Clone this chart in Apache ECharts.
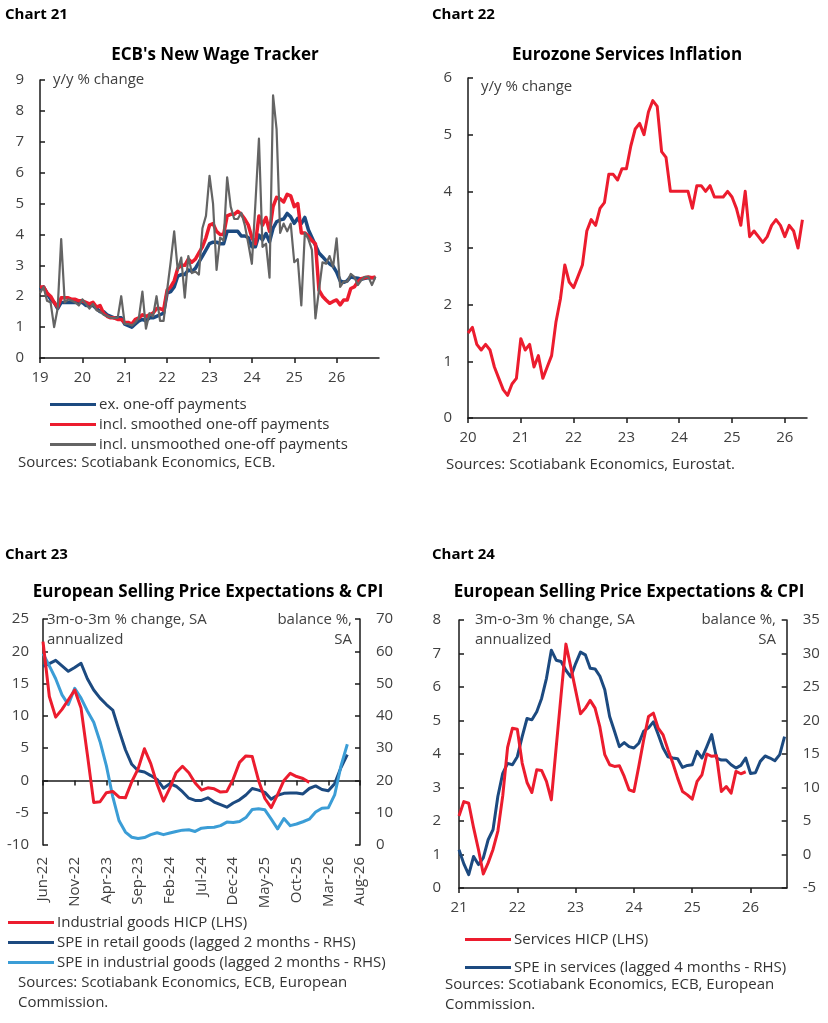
<!DOCTYPE html>
<html>
<head>
<meta charset="utf-8">
<script src="https://cdn.jsdelivr.net/npm/echarts@6.0.0/dist/echarts.min.js"></script>
<style>
html,body{margin:0;padding:0;background:#ffffff;}
#chart{width:828px;height:1023px;}
</style>
</head>
<body>
<div id="chart"></div>
<script>
// ---------- Chart 21: ECB wage tracker, monthly from Jan 2019 ----------
const wageStartYear = 2019;
const wageExOneOff = [
  2.2, 2.3, 2.1, 1.9, 1.8, 1.6, 1.8, 1.8, 1.8, 1.8, 1.8, 1.8,
  1.8, 1.7, 1.7, 1.7, 1.6, 1.5, 1.5, 1.4, 1.35, 1.3, 1.3, 1.3,
  1.1, 1.05, 1.0, 1.1, 1.2, 1.25, 1.2, 1.3, 1.3, 1.35, 1.4, 1.45,
  2.1, 2.15, 2.3, 2.65, 2.7, 2.7, 2.85, 2.8, 2.9, 3.1, 3.3, 3.5,
  3.7, 3.75, 3.75, 3.7, 3.7, 4.1, 4.1, 4.1, 4.1, 3.95, 3.95, 3.9,
  3.6, 3.6, 3.98, 3.82, 4.03, 3.76, 4.2, 4.41, 4.47, 4.5, 4.68, 4.57,
  4.36, 4.52, 4.35, 4.55, 4.15, 3.9, 3.65, 3.4, 3.28, 3.15, 3.05, 2.97,
  2.78, 2.5, 2.45, 2.5, 2.63, 2.6, 2.58, 2.55, 2.58, 2.6, 2.6, 2.6
];
const wageSmoothed = [
  2.3, 2.3, 2.1, 2.0, 1.8, 1.65, 1.95, 1.95, 1.95, 1.9, 1.9, 1.85,
  1.85, 1.8, 1.75, 1.8, 1.65, 1.7, 1.45, 1.35, 1.3, 1.3, 1.25, 1.25,
  1.15, 1.15, 1.1, 1.25, 1.3, 1.4, 1.35, 1.4, 1.45, 1.6, 1.6, 1.55,
  2.2, 2.3, 2.5, 2.9, 3.0, 3.0, 3.2, 3.1, 3.2, 3.4, 3.6, 3.9,
  4.3, 4.35, 4.1, 4.0, 4.0, 4.6, 4.65, 4.65, 4.75, 4.65, 4.5, 4.3,
  3.9, 3.7, 4.6, 4.3, 4.55, 4.1, 4.9, 5.2, 5.15, 5.05, 5.3, 5.25,
  4.9, 5.0, 4.05, 4.05, 3.95, 3.8, 3.7, 2.2, 2.0, 1.88, 1.77, 1.83,
  1.88, 1.72, 1.88, 1.88, 2.25, 2.3, 2.47, 2.57, 2.6, 2.62, 2.6, 2.62
];
const wageUnsmoothed = [
  2.1, 2.3, 1.85, 1.8, 1.0, 1.6, 3.85, 1.8, 1.9, 1.85, 1.8, 1.7,
  1.9, 1.75, 1.6, 1.75, 1.55, 1.5, 1.4, 1.35, 1.3, 1.3, 1.3, 2.0,
  1.1, 1.1, 1.05, 1.15, 1.3, 2.15, 0.95, 1.45, 1.35, 2.0, 1.2, 1.2,
  2.2, 3.1, 4.1, 2.85, 3.25, 1.95, 3.3, 2.75, 2.8, 2.7, 4.2, 4.6,
  5.9, 5.0, 2.85, 3.9, 3.8, 5.85, 4.9, 4.5, 4.5, 4.7, 4.3, 3.7,
  3.05, 5.0, 7.1, 3.6, 3.7, 2.6, 8.5, 7.4, 4.05, 4.35, 4.1, 4.35,
  3.1, 3.2, 1.7, 4.05, 3.85, 3.5, 1.28, 2.2, 3.1, 3.05, 3.3, 2.95,
  3.87, 2.3, 2.47, 2.47, 2.72, 2.63, 2.36, 2.52, 2.63, 2.63, 2.36, 2.63
];

// ---------- Chart 22: Eurozone services inflation, monthly from Jan 2020 ----------
const servicesStartYear = 2020;
const servicesInflation = [
  1.5, 1.6, 1.3, 1.2, 1.3, 1.2, 0.9, 0.7, 0.5, 0.4, 0.6, 0.7,
  1.4, 1.2, 1.3, 0.9, 1.1, 0.7, 0.9, 1.1, 1.7, 2.1, 2.7, 2.4,
  2.3, 2.5, 2.7, 3.3, 3.5, 3.4, 3.7, 3.8, 4.3, 4.3, 4.2, 4.4,
  4.4, 4.8, 5.1, 5.2, 5.0, 5.4, 5.6, 5.5, 4.7, 4.6, 4.0, 4.0,
  4.0, 4.0, 4.0, 3.7, 4.1, 4.1, 4.0, 4.1, 3.9, 3.9, 3.9, 4.0,
  3.9, 3.7, 3.4, 4.0, 3.2, 3.3, 3.2, 3.1, 3.2, 3.4, 3.5, 3.4,
  3.2, 3.4, 3.3, 3.0, 3.5
];

// ---------- Chart 23: selling price expectations (goods), monthly categories ----------
const months23 = [
  'Jun-22','Jul-22','Aug-22','Sep-22','Oct-22','Nov-22','Dec-22',
  'Jan-23','Feb-23','Mar-23','Apr-23','May-23','Jun-23','Jul-23','Aug-23','Sep-23','Oct-23','Nov-23','Dec-23',
  'Jan-24','Feb-24','Mar-24','Apr-24','May-24','Jun-24','Jul-24','Aug-24','Sep-24','Oct-24','Nov-24','Dec-24',
  'Jan-25','Feb-25','Mar-25','Apr-25','May-25','Jun-25','Jul-25','Aug-25','Sep-25','Oct-25','Nov-25','Dec-25',
  'Jan-26','Feb-26','Mar-26','Apr-26','May-26','Jun-26','Jul-26','Aug-26'
];
const industrialGoodsHICP = [
  21.5, 13.0, 9.8, 11.0, 12.5, 14.0, 11.2, 4.0, -3.4, -3.3,
  -1.9, -1.7, -2.6, -2.7, -0.2, 1.8, 4.9, 2.6, -0.6, -3.2,
  -1.2, 1.2, 2.2, 1.2, -0.4, -1.5, -1.15, -1.3, -1.8, -1.7,
  0.2, 2.8, 3.8, 3.7, 0.0, -2.8, -4.2, -2.2, 0.0, 1.1,
  0.6, 0.3, -0.3
];
const speRetailGoods = [
  55.3, 56.2, 57.2, 55.5, 53.8, 55.0, 56.3, 51.5, 48.0, 45.5,
  43.5, 41.8, 35.5, 29.5, 25.0, 23.0, 22.6, 21.5, 20.3, 17.6,
  19.0, 18.2, 16.5, 14.5, 13.8, 13.8, 14.6, 13.3, 12.5, 11.7,
  13.0, 14.0, 15.5, 17.5, 17.0, 16.3, 14.2, 15.4, 16.0, 16.1,
  16.1, 15.8, 17.5, 18.3, 17.2, 16.8, 19.0, 24.0, 28.0
];
const speIndustrialGoods = [
  59.3, 55.5, 51.5, 46.5, 43.5, 48.5, 45.5, 41.5, 38.0, 32.0,
  24.5, 15.0, 7.5, 4.0, 2.4, 2.0, 2.3, 3.2, 3.8, 3.2,
  3.7, 4.2, 4.6, 4.7, 4.2, 5.2, 5.4, 5.5, 6.0, 7.1,
  7.0, 7.3, 8.5, 11.0, 11.2, 10.9, 8.0, 5.0, 8.2, 6.0,
  6.5, 7.2, 8.0, 10.2, 11.4, 11.5, 15.5, 24.5, 31.2
];

// ---------- Chart 24: selling price expectations (services), monthly from Jan 2021 ----------
const services24StartYear = 2021;
const servicesHICP = [
  2.15, 2.58, 2.53, 1.8, 1.15, 0.42, 0.75, 1.15, 1.7, 2.75,
  4.2, 4.77, 4.74, 3.73, 3.15, 2.85, 3.53, 3.51, 3.18, 2.63,
  4.2, 5.75, 7.28, 6.6, 5.9, 5.2, 5.37, 5.6, 5.37, 4.8,
  3.98, 3.68, 3.63, 3.65, 3.33, 2.93, 2.88, 3.63, 4.42, 5.12,
  5.22, 4.77, 4.57, 4.13, 3.73, 3.28, 2.88, 2.78, 2.65, 3.18,
  3.38, 4.0, 3.93, 3.95, 2.88, 3.03, 2.83, 3.48, 3.41, 3.47
];
const speServices = [
  0.7, -1.4, -3.0, -0.3, -1.5, -0.5, 2.2, 3.7, 8.7, 12.1,
  13.6, 13.4, 14.6, 17.6, 20.3, 20.1, 21.3, 23.3, 26.3, 30.5,
  29.0, 28.8, 27.5, 26.5, 28.5, 30.2, 29.8, 27.8, 27.7, 26.6,
  24.6, 20.6, 18.4, 16.1, 16.7, 16.1, 15.9, 16.6, 18.4, 18.9,
  19.8, 17.9, 15.9, 14.6, 14.4, 14.3, 13.0, 13.3, 13.4, 15.4,
  14.4, 16.1, 17.9, 14.4, 14.1, 14.1, 13.4, 12.9, 13.3, 14.4,
  12.1, 12.2, 13.9, 14.7, 14.4, 14.0, 14.9, 17.6
];

// ---------- helpers ----------
function monthly(startYear, arr) {
  return arr.map(function (v, i) { return [startYear + i / 12, v]; });
}
const FONT = '"Open Sans", "Noto Sans", sans-serif';
const RED = '#EC1C2E', NAVY = '#1C4A80', GREY = '#646464', SKY = '#3B9DD6';
const AXIS_COLOR = '#1a1a1a', LABEL_COLOR = '#404040';

function yearLabel(v) {
  return Math.abs(v - Math.round(v)) < 1e-6 ? String(Math.round(v)).slice(2) : '';
}
function valueX(grid, min, max) {
  return {
    type: 'value', gridIndex: grid, min: min, max: max, interval: 1,
    splitLine: { show: false },
    axisLine: { onZero: false, lineStyle: { color: AXIS_COLOR, width: 1.5 } },
    axisTick: { inside: false, length: 5, lineStyle: { color: AXIS_COLOR, width: 1.5 } },
    axisLabel: { formatter: yearLabel, color: LABEL_COLOR, fontSize: 15, fontFamily: FONT, margin: 12, showMaxLabel: false }
  };
}
function valueY(grid, min, max, interval, pos, margin) {
  return {
    type: 'value', gridIndex: grid, min: min, max: max, interval: interval, position: pos,
    splitLine: { show: false },
    axisLine: { show: true, onZero: false, lineStyle: { color: AXIS_COLOR, width: 1.5 } },
    axisTick: { show: true, inside: true, length: 5, lineStyle: { color: AXIS_COLOR, width: 1.5 } },
    axisLabel: { color: LABEL_COLOR, fontSize: 15, fontFamily: FONT, margin: margin }
  };
}
function line(name, xi, yi, data, color, width, z) {
  return {
    name: name, type: 'line', xAxisIndex: xi, yAxisIndex: yi, data: data,
    symbol: 'none', showSymbol: false, animation: false, z: z || 2,
    lineStyle: { color: color, width: width, join: 'round' },
    itemStyle: { color: color }
  };
}
function txt(text, x, y, font, align, fill) {
  return {
    type: 'text', x: x, y: y, silent: true,
    style: {
      text: text, font: font, fill: fill || '#333333',
      textAlign: align || 'left', textVerticalAlign: 'middle', verticalAlign: 'middle'
    }
  };
}
function legend(names, left, top, gap) {
  return {
    data: names, orient: 'vertical', left: left, top: top, itemGap: gap, padding: 0,
    icon: 'rect', itemWidth: 46, itemHeight: 3, selectedMode: false,
    textStyle: { color: '#333333', fontSize: 15, fontFamily: FONT, lineHeight: 15, padding: [0, 0, 0, -2] }
  };
}

const N21 = ['ex. one-off payments', 'incl. smoothed one-off payments', 'incl. unsmoothed one-off payments'];
const N22 = ['Eurozone services HICP'];
const N23 = ['Industrial goods HICP (LHS)', 'SPE in retail goods (lagged 2 months - RHS)', 'SPE in industrial goods (lagged 2 months - RHS)'];
const N24 = ['Services HICP (LHS)', 'SPE in services (lagged 4 months - RHS)'];

const bold15 = 'bold 15px ' + FONT;
const bold17 = 'bold 17px ' + FONT;
const reg15 = '15px ' + FONT;

const option = {
  animation: false,
  backgroundColor: '#ffffff',
  grid: [
    { left: 40, top: 80, width: 339, height: 278 },
    { left: 468, top: 78, width: 339, height: 340 },
    { left: 43, top: 619, width: 317, height: 226 },
    { left: 459, top: 620, width: 327.7, height: 268 }
  ],
  xAxis: [
    valueX(0, 2019, 2027),
    valueX(1, 2020, 2026.42),
    {
      type: 'category', gridIndex: 2, data: months23, boundaryGap: false,
      axisLine: { onZero: true, onZeroAxisIndex: 2, lineStyle: { color: AXIS_COLOR, width: 1.5 } },
      axisTick: { interval: 4, inside: false, length: 5, lineStyle: { color: AXIS_COLOR, width: 1.5 } },
      axisLabel: { show: false }, splitLine: { show: false }
    },
    {
      type: 'category', gridIndex: 2, data: months23, boundaryGap: false, position: 'bottom',
      axisLine: { show: false, onZero: false }, axisTick: { show: false },
      axisLabel: { interval: 4, rotate: 90, color: LABEL_COLOR, fontSize: 15, fontFamily: FONT, margin: 12 },
      splitLine: { show: false }
    },
    valueX(3, 2021, 2026.62)
  ],
  yAxis: [
    valueY(0, 0, 9, 1, 'left', 16),
    valueY(1, 0, 6, 1, 'left', 16),
    valueY(2, -10, 25, 5, 'left', 14),
    valueY(2, 0, 70, 10, 'right', 16),
    valueY(3, 0, 8, 1, 'left', 18),
    valueY(3, -5, 35, 5, 'right', 16)
  ],
  legend: [
    legend(N21, 50, 397, 5),
    legend(N23, 8, 915, 5),
    legend(N24, 465, 932, 13)
  ],
  series: [
    line(N21[0], 0, 0, monthly(wageStartYear, wageExOneOff), NAVY, 3.5, 2),
    line(N21[1], 0, 0, monthly(wageStartYear, wageSmoothed), RED, 3.5, 3),
    line(N21[2], 0, 0, monthly(wageStartYear, wageUnsmoothed), GREY, 2.2, 4),
    line(N22[0], 1, 1, monthly(servicesStartYear, servicesInflation), RED, 3, 2),
    line(N23[1], 2, 3, speRetailGoods, NAVY, 3, 2),
    line(N23[2], 2, 3, speIndustrialGoods, SKY, 3, 3),
    line(N23[0], 2, 2, industrialGoodsHICP, RED, 3, 4),
    line(N24[1], 4, 5, monthly(services24StartYear, speServices), NAVY, 3, 2),
    line(N24[0], 4, 4, monthly(services24StartYear, servicesHICP), RED, 3, 3)
  ],
  graphic: { elements: [
    txt('Chart 21', 5, 15, bold15, 'left', '#000'),
    txt('Chart 22', 432, 15, bold15, 'left', '#000'),
    txt('Chart 23', 5, 555, bold15, 'left', '#000'),
    txt('Chart 24', 432, 555, bold15, 'left', '#000'),
    txt("ECB's New Wage Tracker", 215, 55, bold17, 'center', '#000'),
    txt('Eurozone Services Inflation', 627, 55, bold17, 'center', '#000'),
    txt('European Selling Price Expectations & CPI', 208, 592, bold17, 'center', '#000'),
    txt('European Selling Price Expectations & CPI', 629, 592, bold17, 'center', '#000'),
    txt('y/y % change', 53, 80, reg15, 'left', '#404040'),
    txt('y/y % change', 481, 87, reg15, 'left', '#404040'),
    txt('3m-o-3m % change, SA', 47, 620, reg15, 'left', '#404040'),
    txt('annualized', 47, 640, reg15, 'left', '#404040'),
    txt('balance %,', 352, 620, reg15, 'right', '#404040'),
    txt('SA', 352, 640, reg15, 'right', '#404040'),
    txt('3m-o-3m % change, SA', 475, 620, reg15, 'left', '#404040'),
    txt('annualized', 475, 640, reg15, 'left', '#404040'),
    txt('balance %,', 776, 620, reg15, 'right', '#404040'),
    txt('SA', 776, 640, reg15, 'right', '#404040'),
    txt('Sources: Scotiabank Economics, ECB.', 18, 463, reg15),
    txt('Sources: Scotiabank Economics, Eurostat.', 446, 465, reg15),
    txt('Sources: Scotiabank Economics, ECB, European', 18, 983, reg15),
    txt('Commission.', 18, 1003, reg15),
    txt('Sources: Scotiabank Economics, ECB, European', 445, 985, reg15),
    txt('Commission.', 445, 1005, reg15)
  ] }
};

const chart = echarts.init(document.getElementById('chart'), null, { renderer: 'canvas', width: 828, height: 1023 });
chart.setOption(option);
</script>
</body>
</html>
